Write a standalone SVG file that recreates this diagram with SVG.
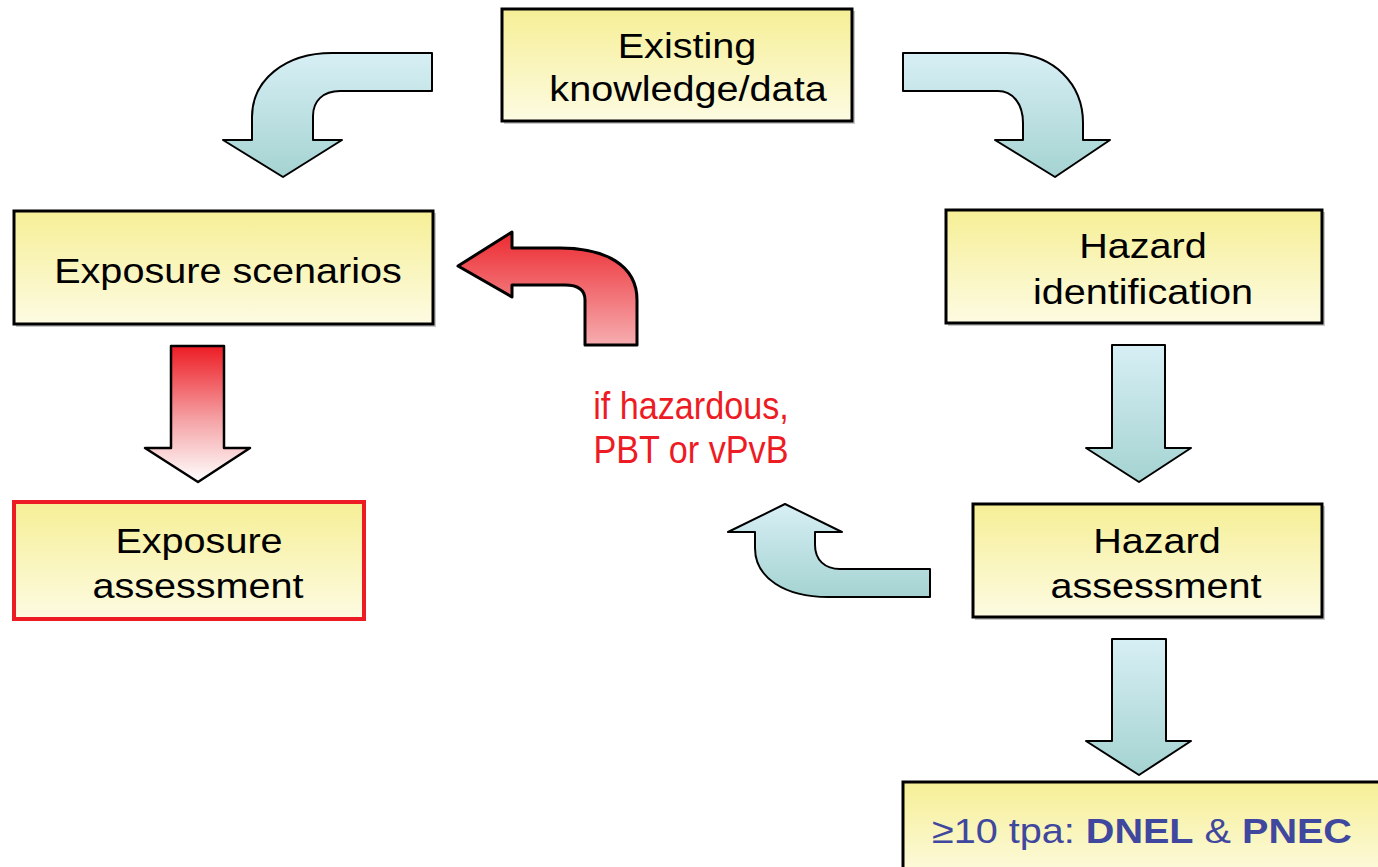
<svg xmlns="http://www.w3.org/2000/svg" width="1378" height="867" viewBox="0 0 1378 867">
  <defs>
    <linearGradient id="boxFill" x1="0" y1="0" x2="0" y2="1">
      <stop offset="0" stop-color="#f6ef96"/>
      <stop offset="1" stop-color="#fdfbe2"/>
    </linearGradient>
    <linearGradient id="tealFill" x1="0" y1="0" x2="0" y2="1">
      <stop offset="0" stop-color="#d7eff5"/>
      <stop offset="1" stop-color="#a5d3d2"/>
    </linearGradient>
    <linearGradient id="redBend" x1="0" y1="0" x2="0" y2="1">
      <stop offset="0" stop-color="#ec2a30"/>
      <stop offset="1" stop-color="#f6adb0"/>
    </linearGradient>
    <linearGradient id="redDown" x1="0" y1="0" x2="0" y2="1">
      <stop offset="0" stop-color="#ed1c24"/>
      <stop offset="0.55" stop-color="#f5a4a7"/>
      <stop offset="1" stop-color="#ffffff"/>
    </linearGradient>
  </defs>
  <style>
    .box { fill: url(#boxFill); stroke: #000; stroke-width: 3; }
    .boxRed { fill: url(#boxFill); stroke: #ed1c24; stroke-width: 4; }
    .shadow { fill: #9a9a9a; opacity: 0.55; }
    .lbl { font-family: "Liberation Sans", Arial, sans-serif; font-size: 36px; fill: #000; text-anchor: middle; }
    .arrow { fill: url(#tealFill); stroke: #000; stroke-width: 2; stroke-linejoin: round; }
    .note { font-family: "Liberation Sans", Arial, sans-serif; font-size: 38px; fill: #ed1c24; text-anchor: middle; }
    .dnel { font-family: "Liberation Sans", Arial, sans-serif; font-size: 36px; fill: #3f479f; }
  </style>

  <rect width="1378" height="867" fill="#ffffff"/>

  <!-- connectors -->
  <g id="connectors">
    <!-- knowledge to exposure scenarios -->
    <path class="arrow" d="M 432 53 L 332 53 C 285 53 252 80 252 117 L 252 140 L 223 140 L 283 177 L 342 140 L 313 140 L 313 116 C 313 101 323 91 340 91 L 432 91 Z"/>
    <!-- knowledge to hazard identification -->
    <path class="arrow" d="M 903 53 L 1007 53 C 1055 53 1083 85 1083 123 L 1083 140 L 1110 140 L 1055 177 L 995 140 L 1023 140 L 1023 123 C 1023 103 1012 91 998 91 L 903 91 Z"/>
    <!-- hazard identification to hazard assessment -->
    <path class="arrow" d="M 1112 345 L 1165 345 L 1165 448 L 1191 448 L 1139 482 L 1086 448 L 1112 448 Z"/>
    <!-- hazard assessment to tonnage box -->
    <path class="arrow" d="M 1112 639 L 1166 639 L 1166 741 L 1191 741 L 1139 775 L 1086 741 L 1112 741 Z"/>
    <!-- hazard assessment back up -->
    <path class="arrow" d="M 930 569 L 840 569 C 825 569 815 560 815 545 L 815 532 L 842 532 L 785 504 L 728 532 L 755 532 L 755 548 C 755 578 785 597 828 597 L 930 597 Z"/>
    <!-- red bend back to exposure scenarios -->
    <path d="M 458 266 L 512 232 L 512 248 L 560 248 C 605 248 637 265 637 300 L 637 345 L 585 345 L 585 300 C 585 290 578 285 565 285 L 512 285 L 512 297 Z" fill="url(#redBend)" stroke="#000" stroke-width="3" stroke-linejoin="round"/>
    <!-- red down arrow -->
    <path d="M 171 346 L 224 346 L 224 448 L 250 448 L 198 482 L 145 448 L 171 448 Z" fill="url(#redDown)" stroke="#000" stroke-width="2.5" stroke-linejoin="round"/>
  </g>

  <g id="node-existing">
    <rect class="shadow" x="504" y="11" width="351" height="113"/>
    <rect class="box" x="502" y="9" width="350" height="112"/>
    <g transform="translate(687 58) scale(1.1 1)"><text class="lbl" x="0" y="0">Existing</text></g>
    <g transform="translate(688 101) scale(1.1 1)"><text class="lbl" x="0" y="0">knowledge/data</text></g>
  </g>

  <g id="node-exposure-scenarios">
    <rect class="shadow" x="16" y="213" width="420" height="114"/>
    <rect class="box" x="14" y="211" width="419" height="113"/>
    <g transform="translate(228 283) scale(1.1 1)"><text class="lbl" x="0" y="0">Exposure scenarios</text></g>
  </g>

  <g id="node-hazard-identification">
    <rect class="shadow" x="948" y="212" width="377" height="114"/>
    <rect class="box" x="946" y="210" width="376" height="113"/>
    <g transform="translate(1143 258) scale(1.1 1)"><text class="lbl" x="0" y="0">Hazard</text></g>
    <g transform="translate(1143 304) scale(1.1 1)"><text class="lbl" x="0" y="0">identification</text></g>
  </g>

  <g id="node-hazard-assessment">
    <rect class="shadow" x="975" y="506" width="350" height="114"/>
    <rect class="box" x="973" y="504" width="349" height="113"/>
    <g transform="translate(1157 553) scale(1.1 1)"><text class="lbl" x="0" y="0">Hazard</text></g>
    <g transform="translate(1156 598) scale(1.1 1)"><text class="lbl" x="0" y="0">assessment</text></g>
  </g>

  <g id="node-exposure-assessment">
    <rect class="boxRed" x="14" y="502" width="350" height="117"/>
    <g transform="translate(199 553) scale(1.1 1)"><text class="lbl" x="0" y="0">Exposure</text></g>
    <g transform="translate(198 598) scale(1.1 1)"><text class="lbl" x="0" y="0">assessment</text></g>
  </g>

  <g id="node-condition">
    <g transform="translate(691 419) scale(0.9 1)"><text class="note" x="0" y="0">if hazardous,</text></g>
    <g transform="translate(691 463) scale(0.9 1)"><text class="note" x="0" y="0">PBT or vPvB</text></g>
  </g>

  <g id="node-tonnage">
    <rect class="box" x="903" y="782" width="490" height="100"/>
    <g transform="translate(932 843) scale(1.1 1)">
      <text class="dnel" x="0" y="0">≥10 tpa: <tspan font-weight="bold">DNEL</tspan> &amp; <tspan font-weight="bold">PNEC</tspan></text>
    </g>
  </g>
</svg>
